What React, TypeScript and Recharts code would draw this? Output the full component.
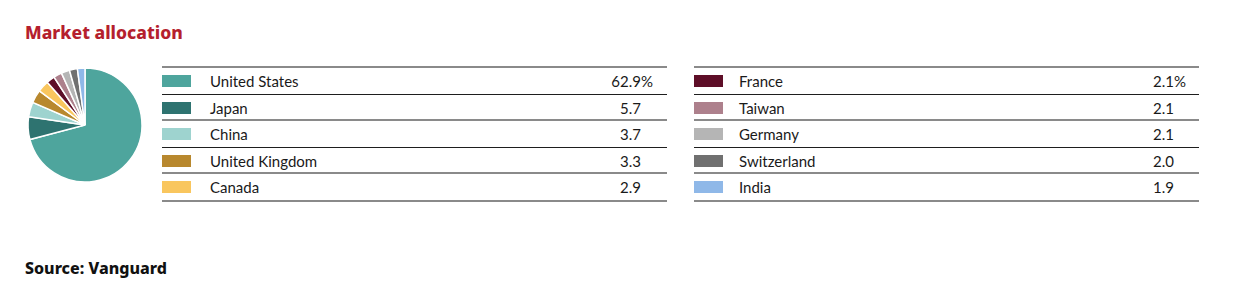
import React from 'react';
import { PieChart, Pie, Cell, Legend } from 'recharts';

const countries = ['United States', 'Japan', 'China', 'United Kingdom', 'Canada', 'France', 'Taiwan', 'Germany', 'Switzerland', 'India'];
const weights = [62.9, 5.7, 3.7, 3.3, 2.9, 2.1, 2.1, 2.1, 2.0, 1.9];
const colors = ['#4ea59d', '#2e7370', '#9ed3cf', '#b8882e', '#f9c65e', '#5e0e28', '#ad808c', '#b5b5b5', '#707070', '#8fb8e8'];

const data = countries.map((name, i) => ({ name, value: weights[i] }));

const FONT = 'Lato, "Noto Sans", sans-serif';
const HEAD_FONT = '"Noto Sans", Lato, sans-serif';
const GRAY_LINE = '2px solid #8a8a8a';
const DARK_LINE = '1px solid #1e1e1e';
const lineFor = (i: number) => (i % 2 === 0 ? DARK_LINE : GRAY_LINE);

function Column({ start, left, width, numRight, textLeft }: { start: number; left: number; width: number; numRight: number; textLeft: number }) {
  const rows = data.slice(start, start + 5);
  return (
    <div style={{ position: 'absolute', left, top: 66, width, borderTop: GRAY_LINE }}>
      {rows.map((r, i) => (
        <div
          key={r.name}
          style={{
            position: 'relative',
            height: i % 2 === 0 ? 25.5 : 24.5,
            borderBottom: i === 4 ? GRAY_LINE : lineFor(i),
          }}
        >
          <div style={{ position: 'absolute', left: 0, top: 7, width: 29, height: 12, background: colors[start + i] }} />
          <div style={{ position: 'absolute', left: textLeft, top: 4, fontSize: 15, color: '#1a1a1a' }}>{r.name}</div>
          <div style={{ position: 'absolute', right: width - numRight, top: 4, fontSize: 15, color: '#1a1a1a' }}>
            {r.value.toFixed(1)}
          </div>
          {i === 0 && (
            <div style={{ position: 'absolute', left: numRight, top: 4, fontSize: 15, color: '#1a1a1a' }}>%</div>
          )}
        </div>
      ))}
    </div>
  );
}

function AllocationTable() {
  return (
    <div style={{ fontFamily: FONT }}>
      <Column start={0} left={162} width={505} numRight={479} textLeft={48} />
      <Column start={5} left={694} width={505} numRight={480} textLeft={45} />
    </div>
  );
}

export default function App() {
  return (
    <div style={{ position: 'absolute', left: 0, top: 0, width: 1243, height: 295, fontFamily: FONT, background: '#fff' }}>
      <div style={{ position: 'absolute', left: 25, top: 20, fontSize: 17.5, fontWeight: 800, color: '#b51f2e', fontFamily: HEAD_FONT }}>
        Market allocation
      </div>
      <PieChart width={1243} height={295} margin={{ top: 0, right: 0, bottom: 0, left: 0 }}>
        <Pie
          data={data}
          dataKey="value"
          nameKey="name"
          cx={85}
          cy={125}
          outerRadius={57}
          startAngle={90}
          endAngle={-270}
          stroke="#ffffff"
          strokeWidth={1.5}
          isAnimationActive={false}
        >
          {data.map((entry, index) => (
            <Cell key={`cell-${index}`} fill={colors[index]} />
          ))}
        </Pie>
        <Legend
          content={() => <AllocationTable />}
          wrapperStyle={{ position: 'absolute', left: 0, top: 0, width: 1243, height: 0 }}
        />
      </PieChart>
      <div style={{ position: 'absolute', left: 25, top: 257, fontSize: 16, fontWeight: 800, color: '#111', fontFamily: HEAD_FONT }}>
        Source: Vanguard
      </div>
    </div>
  );
}
